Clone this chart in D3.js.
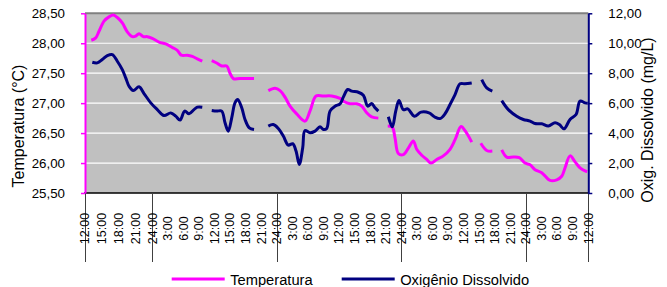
<!DOCTYPE html>
<html><head><meta charset="utf-8">
<script src="https://cdn.jsdelivr.net/npm/d3@7"></script>
<style>
html,body{margin:0;padding:0;background:#fff}
svg{display:block}
text{font-family:"Liberation Sans",Arial,sans-serif;fill:#000}
</style>
</head><body>
<svg id="c" width="667" height="287"></svg>
<script>
// ---------- DATA ----------
const xLabels = ["12:00","15:00","18:00","21:00","24:00","3:00","6:00","9:00",
  "12:00","15:00","18:00","21:00","24:00","3:00","6:00","9:00",
  "12:00","15:00","18:00","21:00","24:00","3:00","6:00","9:00",
  "12:00","15:00","18:00","21:00","24:00","3:00","6:00","9:00","12:00"];
const dayBreakHours = [0, 12, 36, 60, 84, 96];
const tempTicks = [25.5, 26, 26.5, 27, 27.5, 28, 28.5];
const oxyTicks = [0, 2, 4, 6, 8, 10, 12];

// hours since first 12:00 label; null value = gap in the record
const tempHours = [1.12,1.91,2.50,3.39,4.28,5.05,5.76,6.65,7.54,8.43,9.04,9.63,10.40,11.11,12.0,13.29,14.58,15.85,16.82,17.59,18.74,19.71,20.67,21.63,
  22.5,
  23.45,24.41,25.37,26.34,26.97,27.61,28.90,31.60,
  32.9,
  34.35,35.64,36.61,37.57,38.53,39.82,41.42,42.39,43.54,44.95,46.57,48.17,49.13,50.09,51.38,52.35,53.31,54.27,55.55,
  56.5,
  57.36,58.24,58.76,59.40,60.36,61.33,62.29,62.94,63.91,64.87,65.70,66.80,68.07,69.36,70.33,71.48,72.25,73.54,
  74.4,
  75.28,76.43,77.51,
  78.4,
  79.32,80.29,81.56,82.71,83.81,84.78,85.74,87.03,88.63,89.92,90.88,91.52,92.48,93.45,94.41,95.37,95.8];
const tempValues = [28.05,28.09,28.20,28.37,28.44,28.47,28.43,28.34,28.19,28.11,28.12,28.16,28.11,28.11,28.08,28.02,27.99,27.93,27.88,27.80,27.80,27.78,27.74,27.70,
  null,
  27.71,27.67,27.62,27.62,27.50,27.41,27.41,27.41,
  null,
  27.21,27.25,27.21,27.10,26.95,26.82,26.70,26.87,27.12,27.12,27.12,27.08,27.02,26.99,26.99,26.95,26.84,26.77,26.75,
  null,
  26.62,26.60,26.42,26.16,26.14,26.25,26.37,26.23,26.13,26.06,26.00,26.06,26.12,26.23,26.39,26.61,26.54,26.35,
  null,
  26.33,26.21,26.20,
  null,
  26.22,26.10,26.10,26.09,26.00,25.97,25.89,25.84,25.71,25.72,25.78,25.92,26.12,26.02,25.92,25.87,25.86];

const oxyHours = [1.30,2.19,3.08,3.98,4.87,5.76,6.65,7.26,7.85,8.61,9.63,10.52,11.72,12.96,14.25,15.55,16.51,17.34,18.24,19.07,20.03,20.67,21.63,
  22.5,
  23.45,24.41,25.37,26.01,26.64,27.30,27.93,28.45,29.23,29.86,30.69,31.60,
  32.9,
  34.35,35.31,36.28,37.24,38.20,39.05,39.69,40.32,40.98,41.42,42.39,43.35,44.31,44.95,45.60,46.24,47.20,48.17,48.80,49.65,50.42,51.69,52.66,53.50,54.27,54.91,55.55,
  56.5,
  57.47,58.24,58.90,59.53,60.36,61.21,62.48,63.77,65.31,66.34,67.43,68.40,69.36,70.33,71.29,72.25,73.54,
  74.4,
  75.47,76.43,77.51,
  78.4,
  79.32,80.59,82.21,83.48,84.78,85.74,87.03,88.30,89.59,90.42,91.33,92.48,93.64,94.41,95.37,95.9];
const oxyValues = [8.73,8.69,8.91,9.17,9.24,8.80,8.24,7.69,7.13,6.84,7.09,6.64,6.02,5.57,5.17,5.35,5.13,4.87,5.47,5.29,5.57,5.73,5.73,
  null,
  5.51,5.47,5.47,4.69,4.13,5.02,6.02,6.24,5.69,4.91,4.35,4.24,
  null,
  4.47,4.57,4.31,3.80,3.20,3.29,2.80,1.91,3.02,4.17,4.02,4.13,4.42,4.24,4.31,5.47,5.80,5.95,6.40,6.91,6.80,6.73,6.53,5.80,5.97,5.69,5.47,
  null,
  5.09,4.42,5.47,6.17,5.57,5.62,5.13,5.40,5.35,5.09,4.97,5.29,5.91,6.57,7.29,7.29,7.35,
  null,
  7.57,7.02,6.80,
  null,
  6.17,5.57,5.13,4.91,4.80,4.64,4.62,4.47,4.69,4.57,4.29,4.91,5.24,6.13,6.02,6.00];

// ---------- CHART ----------
const svg = d3.select("#c");
const PINK = "#FF00FF", NAVY = "#000080";
const x = d3.scaleLinear().domain([0, 12, 96]).range([85, 152.3, 588.3]);
const yT = d3.scaleLinear().domain([25.5, 28.5]).range([193, 13.3]);
const yO = d3.scaleLinear().domain([0, 12]).range([193, 13.3]);
const loc = d3.formatLocale({decimal: ",", thousands: ".", grouping: [3], currency: ["", ""]});
const fmt = loc.format(".2f");

const x0 = x(0), x1 = x(96), yTop = yT(28.5), yBot = yT(25.5);

// plot background
svg.append("rect").attr("x", x0).attr("y", yTop).attr("width", x1 - x0).attr("height", yBot - yTop)
  .attr("fill", "#C0C0C0");

// gridlines
svg.append("g").selectAll("line").data(tempTicks.filter(t => t > 25.5 && t < 28.5)).join("line")
  .attr("x1", x0).attr("x2", x1).attr("y1", d => yT(d)).attr("y2", d => yT(d))
  .attr("stroke", "#FFFFFF").attr("stroke-width", 1.2);

// top border
svg.append("line").attr("x1", x0).attr("x2", x1).attr("y1", yTop).attr("y2", yTop)
  .attr("stroke", "#808080").attr("stroke-width", 2);

// series
const tempData = tempHours.map((h, i) => ({h, v: tempValues[i]}));
const oxyData = oxyHours.map((h, i) => ({h, v: oxyValues[i]}));
const mkLine = ys => d3.line().defined(d => d.v != null).x(d => x(d.h)).y(d => ys(d.v))
  .curve(d3.curveCatmullRom.alpha(0.5));

svg.append("path").datum(tempData).attr("d", mkLine(yT))
  .attr("fill", "none").attr("stroke", PINK).attr("stroke-width", 3).attr("stroke-linejoin", "round");
svg.append("path").datum(oxyData).attr("d", mkLine(yO))
  .attr("fill", "none").attr("stroke", NAVY).attr("stroke-width", 3).attr("stroke-linejoin", "round");

// bottom axis line
svg.append("line").attr("x1", x0 - 1).attr("x2", x1).attr("y1", yBot).attr("y2", yBot)
  .attr("stroke", "#000").attr("stroke-width", 1.6);

// day separators
svg.append("g").selectAll("line").data(dayBreakHours).join("line")
  .attr("x1", d => Math.round(x(d)) + 0.5).attr("x2", d => Math.round(x(d)) + 0.5)
  .attr("y1", yBot).attr("y2", 262)
  .attr("stroke", "#404040").attr("stroke-width", 1);

// x labels
svg.append("g").selectAll("text").data(xLabels).join("text")
  .attr("transform", (d, i) => `translate(${x(i * 3) + 4.3},228.5) rotate(-90)`)
  .attr("text-anchor", "middle")
  .style("font-size", "12.5px")
  .text(d => d);

// left axis
const gL = svg.append("g").attr("transform", `translate(${x0},0)`)
  .call(d3.axisLeft(yT).tickValues(tempTicks).tickSize(4).tickSizeOuter(0).tickPadding(16).tickFormat(fmt));
gL.select(".domain").attr("stroke", PINK).attr("stroke-width", 2);
gL.selectAll(".tick line").attr("stroke", PINK).attr("stroke-width", 1.5);
gL.selectAll(".tick text").style("font-size", "13.3px").attr("fill", "#000")
  .style("font-family", '"Liberation Sans",Arial,sans-serif');

// right axis
const gR = svg.append("g").attr("transform", `translate(${x1},0)`)
  .call(d3.axisRight(yO).tickValues(oxyTicks).tickSize(4).tickSizeOuter(0).tickPadding(16).tickFormat(fmt));
gR.select(".domain").attr("stroke", NAVY).attr("stroke-width", 2);
gR.selectAll(".tick line").attr("stroke", NAVY).attr("stroke-width", 1.5);
gR.selectAll(".tick text").style("font-size", "13.3px").attr("fill", "#000")
  .style("font-family", '"Liberation Sans",Arial,sans-serif');

// axis titles
svg.append("text").attr("transform", "translate(24,126) rotate(-90)")
  .attr("text-anchor", "middle").style("font-size", "16px").text("Temperatura (°C)");
svg.append("text").attr("transform", "translate(653,120) rotate(-90)")
  .attr("text-anchor", "middle").style("font-size", "16px").text("Oxig. Dissolvido (mg/L)");

// legend
const legend = [{name: "Temperatura", color: PINK, x: 171.7}, {name: "Oxigênio Dissolvido", color: NAVY, x: 341.7}];
const lg = svg.append("g").selectAll("g").data(legend).join("g");
lg.append("line").attr("x1", d => d.x).attr("x2", d => d.x + 53).attr("y1", 279).attr("y2", 279)
  .attr("stroke", d => d.color).attr("stroke-width", 3);
lg.append("text").attr("x", d => d.x + 58.5).attr("y", 285).style("font-size", "14.7px").text(d => d.name);
</script>
</body></html>
